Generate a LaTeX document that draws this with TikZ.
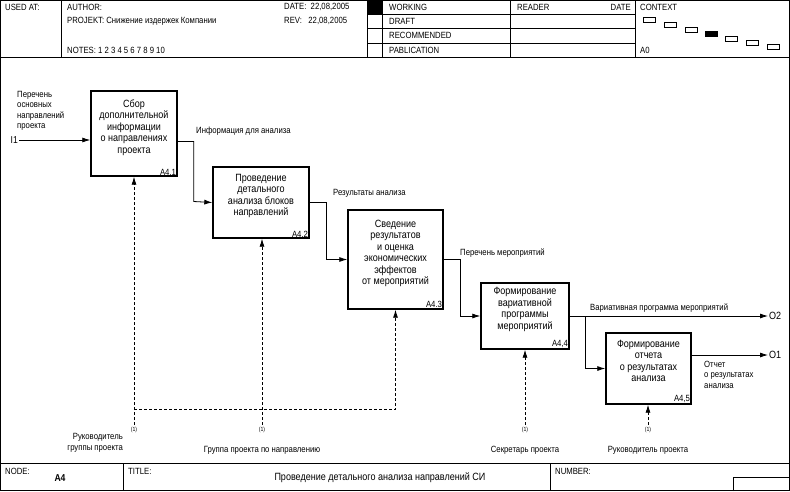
\documentclass[tikz,border=0pt]{standalone}
\usepackage{fontspec}
\setmainfont[FakeStretch=0.86]{Liberation Sans}
\usetikzlibrary{arrows.meta,positioning}

\tikzset{
  func/.style={draw, line width=1.4pt, align=center, inner sep=1pt, font=\fontsize{10.5}{11.5}\selectfont},
  fid/.style={anchor=south east, inner sep=1.5pt, font=\fontsize{9}{9}\selectfont},
  lbl/.style={font=\fontsize{9}{10.5}\selectfont, inner sep=1pt},
  flow/.style={line width=0.8pt, -{Latex[length=8pt,width=5pt]}},
  mech/.style={line width=0.8pt, dash pattern=on 3pt off 2pt, -{Latex[length=8pt,width=5pt]}},
  frame/.style={line width=0.8pt},
  ctx/.style={draw, line width=0.6pt, minimum width=12pt, minimum height=5.5pt, inner sep=0pt}
}

\begin{document}
\begin{tikzpicture}[x=1pt,y=-1pt]
\useasboundingbox (0,0) rectangle (790,491);

% header
\draw[frame] (0.5,0.5) rectangle (789.5,490.5);
\draw[frame] (0,57) -- (790,57);
\draw[frame] (61,0) -- (61,57);
\draw[frame] (367,0) -- (367,57);
\draw[frame] (382,0) -- (382,57);
\draw[frame] (510,0) -- (510,57);
\draw[frame] (635,0) -- (635,57);
\draw[frame] (367,14) -- (635,14);
\draw[frame] (367,28.5) -- (635,28.5);
\draw[frame] (367,43) -- (635,43);
\fill (367,0) rectangle (382,14);

\node[lbl, anchor=west] (usedat) at (4,7) {USED AT:};
\node[lbl, anchor=west] (author) at (66,7) {AUTHOR:};
\node[lbl, anchor=west] (proj) at (66,21) {PROJEKT: Снижение издержек Компании};
\node[lbl, anchor=west] (notes) at (66,50) {NOTES: 1 2 3 4 5 6 7 8 9 10};
\node[lbl, anchor=west] (date) at (283,7) {DATE:\ \ 22,08,2005};
\node[lbl, anchor=west] (rev) at (283,21) {REV:\ \ \ 22,08,2005};
\node[lbl, anchor=west] (working) at (388,7) {WORKING};
\node[lbl, anchor=west] (draft) at (388,21) {DRAFT};
\node[lbl, anchor=west] (recom) at (388,35.5) {RECOMMENDED};
\node[lbl, anchor=west] (pabl) at (388,50) {PABLICATION};
\node[lbl, anchor=west] (reader) at (516,7) {READER};
\node[lbl, anchor=east] (rdate) at (632,7) {DATE};
\node[lbl, anchor=west] (context) at (639,7) {CONTEXT};
\node[lbl, anchor=west] (a0) at (639,50) {A0};

\node[ctx] (c1) at (649,20) {};
\node[ctx] (c2) at (670,25) {};
\node[ctx] (c3) at (691,30) {};
\node[ctx, fill=black] (c4) at (711,34) {};
\node[ctx] (c5) at (731,39) {};
\node[ctx] (c6) at (752,43) {};
\node[ctx] (c7) at (773,47) {};

% footer
\draw[frame] (0,463) -- (790,463);
\draw[frame] (123,463) -- (123,491);
\draw[frame] (550,463) -- (550,491);
\draw[frame] (733,491) -- (733,477) -- (790,477);
\node[lbl, anchor=west] (node) at (4,471) {NODE:};
\node[font=\fontsize{10}{10}\selectfont\bfseries] (a4) at (60,478) {A4};
\node[lbl, anchor=west] (title) at (127,471) {TITLE:};
\node[font=\fontsize{10.5}{11}\selectfont] (ttext) at (380,478) {Проведение детального анализа направлений СИ};
\node[lbl, anchor=west] (number) at (554,471) {NUMBER:};

% functions
\node[func, minimum width=86, minimum height=85] (b1) at (134,133.5) {Сбор\\дополнительной\\информации\\о направлениях\\проекта\\[3pt]};
\node[func, minimum width=96, minimum height=71] (b2) at (261,202.5) {Проведение\\детального\\анализа блоков\\направлений\\[4pt]};
\node[func, minimum width=95, minimum height=99] (b3) at (395.5,259.5) {Сведение\\результатов\\и оценка\\экономических\\эффектов\\от мероприятий\\[3pt]};
\node[func, minimum width=88, minimum height=66] (b4) at (525,316) {Формирование\\вариативной\\программы\\мероприятий\\[4pt]};
\node[func, minimum width=85, minimum height=71] (b5) at (648.5,368.5) {Формирование\\отчета\\о результатах\\анализа\\[4pt]};
\node[fid] at (b1.south east) {A4.1};
\node[fid] at (b2.south east) {A4.2};
\node[fid] at (b3.south east) {A4.3};
\node[fid] at (b4.south east) {A4,4};
\node[fid] at (b5.south east) {A4,5};

% arrows
\coordinate (i1) at (19,140);
\node[lbl, anchor=east, font=\fontsize{10}{10}\selectfont] (i1t) at (i1) {I1};
\draw[flow] (i1) -- (b1.west |- i1);
\node[lbl, anchor=south west, align=left] (i1l) at (16,132) {Перечень\\основных\\направлений\\проекта};

\draw[flow] ([yshift=-8]b1.east) -| ++(16,60) -- (b2.west);
\draw[flow] (b2.east) -- ++(17,0) |- (b3.west);
\draw[flow] (b3.east) -- ++(17,0) |- (b4.west);
\node[lbl, anchor=west] (l1) at (195,131) {Информация для анализа};
\node[lbl, anchor=west] (l2) at (332,193) {Результаты анализа};
\node[lbl, anchor=west] (l3) at (459,253) {Перечень мероприятий};

\coordinate (o2) at (768,316);
\coordinate (o1) at (768,355);
\draw[flow] (b4.east) -- (o2);
\draw[flow] ([xshift=16]b4.east) |- (b5.west);
\draw[flow] (b5.east |- o1) -- (o1);
\node[lbl, anchor=west, font=\fontsize{10.5}{11}\selectfont] (o2t) at (o2) {O2};
\node[lbl, anchor=west, font=\fontsize{10.5}{11}\selectfont] (o1t) at (o1) {O1};
\node[lbl, anchor=west] (l4) at (589,308) {Вариативная программа мероприятий};
\node[lbl, anchor=north west, align=left] (l5) at (703,360) {Отчет\\о результатах\\анализа};

% mechanisms
\coordinate (m1) at (134,425);
\coordinate (m2) at (262,425);
\coordinate (m4) at (525,425);
\coordinate (m5) at (648,425);
\coordinate (j) at (134,409);
\draw[mech] (m1) -- (b1.south);
\draw[mech] (m2) -- (b2.south -| m2);
\draw[mech] (j) -| (b3.south);
\draw[mech] (m4) -- (b4.south);
\draw[mech] (m5) -- (b5.south -| m5);
\foreach \m in {m1,m2,m4,m5}
  \node[font=\fontsize{6}{6}\selectfont, inner sep=0pt, below=2pt of \m] {(1)};

\node[lbl, anchor=east, align=right] (p1) at (124,443) {Руководитель\\группы проекта};
\node[lbl] (p2) at (262,450) {Группа проекта по направлению};
\node[lbl] (p4) at (525,450) {Секретарь проекта};
\node[lbl] (p5) at (648,450) {Руководитель проекта};

\end{tikzpicture}
\end{document}
